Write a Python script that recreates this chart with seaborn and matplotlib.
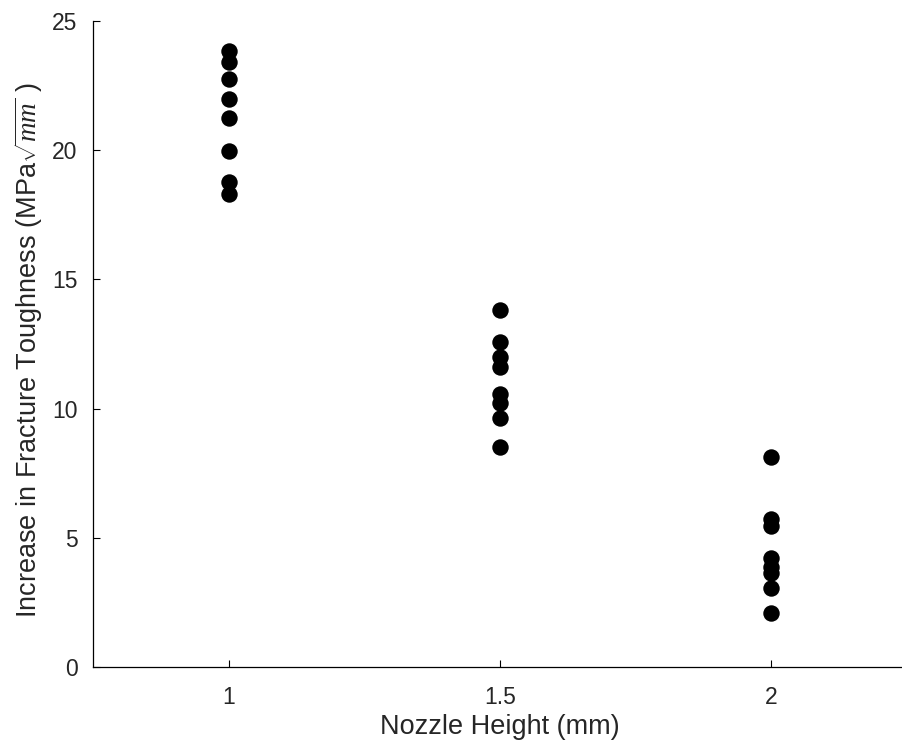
import matplotlib
matplotlib.use("Agg")
import matplotlib.pyplot as plt
import seaborn as sns
import pandas as pd

heights = [1.0] * 8 + [1.5] * 8 + [2.0] * 8
toughness_1 = [23.85, 23.42, 22.74, 21.98, 21.23, 19.97, 18.77, 18.30]
toughness_15 = [13.82, 12.59, 12.01, 11.60, 10.55, 10.20, 9.62, 8.52]
toughness_2 = [8.12, 5.72, 5.45, 4.20, 3.88, 3.62, 3.05, 2.10]
x_ticks = [1, 1.5, 2]
x_tick_labels = ["1", "1.5", "2"]
y_ticks = [0, 5, 10, 15, 20, 25]

df = pd.DataFrame({
    "height": heights,
    "toughness": toughness_1 + toughness_15 + toughness_2,
})

sns.set_style("ticks")
plt.rcParams["font.family"] = ["Liberation Sans", "DejaVu Sans"]
plt.rcParams["mathtext.fontset"] = "custom"
plt.rcParams["mathtext.it"] = "Liberation Serif:italic"
plt.rcParams["mathtext.rm"] = "Liberation Serif"

fig = plt.figure(figsize=(9.03, 7.49), dpi=100)
ax = fig.add_axes([93 / 903, 82 / 749, (907 - 93) / 903, (667 - 21) / 749])

sns.scatterplot(data=df, x="height", y="toughness", ax=ax, color="black",
                s=140, edgecolor="black", linewidth=0, legend=False)

ax.set_xlim(0.75, 2.25)
ax.set_ylim(0, 25)
ax.set_xticks(x_ticks)
ax.set_xticklabels(x_tick_labels)
ax.set_yticks(y_ticks)
txt = "#262626"
ax.tick_params(direction="in", length=5, width=0.8, labelsize=16.5, colors="black",
               labelcolor=txt)
ax.tick_params(axis="x", pad=14)
ax.tick_params(axis="y", pad=11)
ax.set_xlabel("Nozzle Height (mm)", fontsize=19.5, color=txt, labelpad=3)
ax.set_ylabel(r"Increase in Fracture Toughness (MPa$\sqrt{mm}$ )", fontsize=19.5,
              color=txt, labelpad=5)
ax.yaxis.label.set_y(0.49)
for side in ["top", "right"]:
    ax.spines[side].set_visible(False)
for side in ["left", "bottom"]:
    ax.spines[side].set_color("black")
    ax.spines[side].set_linewidth(0.9)

fig.savefig("out.png", dpi=100)
